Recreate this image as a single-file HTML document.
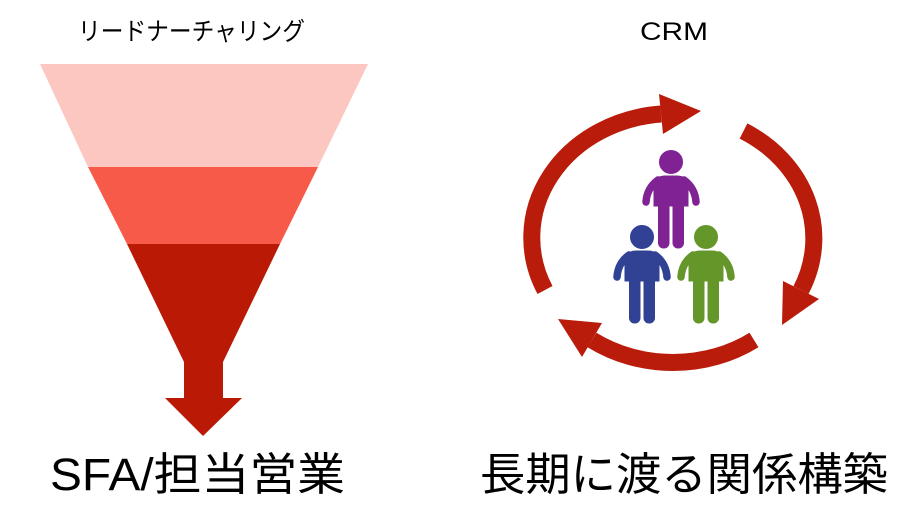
<!DOCTYPE html>
<html><head><meta charset="utf-8"><style>
html,body{margin:0;padding:0;background:#fff;}
svg{display:block;}
text{font-family:"Liberation Sans","Noto Sans CJK JP",sans-serif;fill:#000;}
</style></head><body>
<svg width="918" height="528" viewBox="0 0 918 528" xmlns="http://www.w3.org/2000/svg">
<polygon points="40,64 368,64 318,167 88,167" fill="#fcc6c1"/>
<polygon points="88,167 318,167 280,244 127,244" fill="#f85a49"/>
<polygon points="127,244 280,244 223,362 223,398 242,398 203,436 165,398 184,398 184,362" fill="#b91905"/>
<g fill="none" stroke="#b91c0b" stroke-width="17">
<path d="M545,290 A141,124 0 0 1 661,114"/>
<path d="M743.5,131 A141,124 0 0 1 801,290"/>
<path d="M754,340 A141,124 0 0 1 592,340"/>
</g>
<g fill="#b91c0b">
<polygon points="663,134 701,111 659,94"/>
<polygon points="819,299 782,325 783,281"/>
<polygon points="582,357 558,319 602,323"/>
</g>
<defs>
<g id="p">
<circle cx="0" cy="0" r="11.5"/>
<path d="M-17,26 Q-17,14 -6,14 L6,14 Q17,14 17,26 L17,44 L-17,44 Z"/>
<path d="M-13,18 Q-24,26 -25,40 M13,18 Q24,26 25,40" fill="none" stroke-width="7.5" stroke-linecap="round"/>
<rect x="-12.5" y="38" width="10.5" height="48" rx="5"/>
<rect x="2" y="38" width="10.5" height="48" rx="5"/>
</g>
</defs>
<g fill="#802293" stroke="#802293"><use href="#p" x="671" y="162"/></g>
<g fill="#314294" stroke="#314294"><use href="#p" x="642" y="237"/></g>
<g fill="#64962a" stroke="#64962a"><use href="#p" x="706" y="237"/></g>
<text x="78" y="40" font-size="25" textLength="227" lengthAdjust="spacingAndGlyphs">リードナーチャリング</text>
<text x="640" y="40" font-size="25" textLength="68" lengthAdjust="spacingAndGlyphs">CRM</text>
<text x="50" y="490" font-size="45" textLength="295" lengthAdjust="spacingAndGlyphs">SFA/担当営業</text>
<text x="480" y="490" font-size="45" textLength="408" lengthAdjust="spacingAndGlyphs">長期に渡る関係構築</text>
</svg>
</body></html>
